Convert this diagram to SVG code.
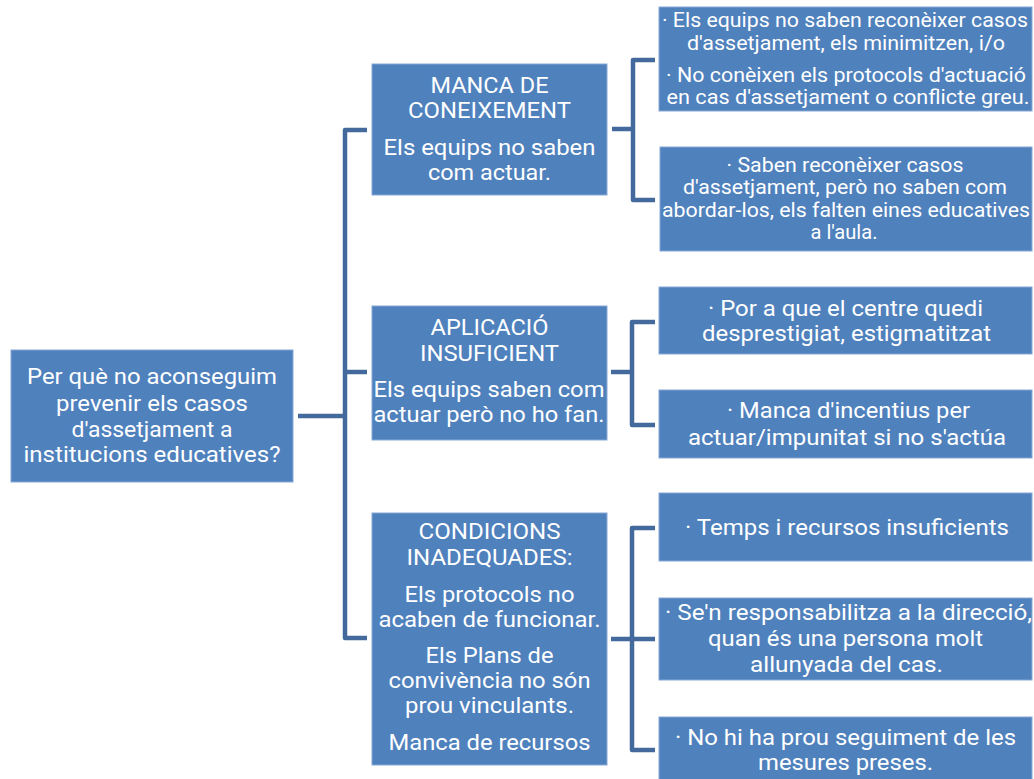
<svg xmlns="http://www.w3.org/2000/svg" width="1034" height="779" viewBox="0 0 1034 779">
<style>
.box{fill:#4F81BD;stroke:#86A8D6;stroke-width:1}
.t{font-family:Roboto,"Liberation Sans",sans-serif;fill:#fff;text-anchor:middle}
.s22{font-size:22px}.s21{font-size:21.5px}.s19{font-size:19.5px}
.c{fill:none;stroke:#44699C;stroke-width:4.5;stroke-linejoin:round}
</style>
<rect width="1034" height="779" fill="#fff"/>
<g id="connectors">
<path class="c" d="M298,416 H345"/>
<path class="c" d="M367,130 H345 V638 H367"/>
<path class="c" d="M345,372 H367"/>
<path class="c" d="M612,129 H633"/>
<path class="c" d="M655,60 H633 V200 H655"/>
<path class="c" d="M611,372 H632"/>
<path class="c" d="M655,322 H632 V425 H655"/>
<path class="c" d="M611,639 H655"/>
<path class="c" d="M655,528 H632 V750 H655"/>
</g>
<g id="root">
<rect class="box" x="11" y="350" width="282" height="132"/>
<text class="t s21" x="152" y="384" textLength="250" lengthAdjust="spacingAndGlyphs">Per què no aconseguim</text>
<text class="t s21" x="152" y="411" textLength="192" lengthAdjust="spacingAndGlyphs">prevenir els casos</text>
<text class="t s21" x="152" y="437" textLength="161" lengthAdjust="spacingAndGlyphs">d'assetjament a</text>
<text class="t s21" x="152" y="462" textLength="257" lengthAdjust="spacingAndGlyphs">institucions educatives?</text>
</g>
<g id="manca">
<rect class="box" x="372" y="64" width="235" height="131"/>
<text class="t s22" x="489.5" y="93" textLength="118" lengthAdjust="spacingAndGlyphs">MANCA DE</text>
<text class="t s22" x="489.5" y="118" textLength="163" lengthAdjust="spacingAndGlyphs">CONEIXEMENT</text>
<text class="t s22" x="489.5" y="155" textLength="212" lengthAdjust="spacingAndGlyphs">Els equips no saben</text>
<text class="t s22" x="489.5" y="180" textLength="123" lengthAdjust="spacingAndGlyphs">com actuar.</text>
</g>
<g id="aplicacio">
<rect class="box" x="372" y="306" width="235" height="134"/>
<text class="t s22" x="489.5" y="335" textLength="118" lengthAdjust="spacingAndGlyphs">APLICACIÓ</text>
<text class="t s22" x="489.5" y="361" textLength="139" lengthAdjust="spacingAndGlyphs">INSUFICIENT</text>
<text class="t s22" x="489" y="397" textLength="231" lengthAdjust="spacingAndGlyphs">Els equips saben com</text>
<text class="t s22" x="489" y="422" textLength="231" lengthAdjust="spacingAndGlyphs">actuar però no ho fan.</text>
</g>
<g id="condicions">
<rect class="box" x="372" y="513" width="235" height="252"/>
<text class="t s22" x="489.5" y="539" textLength="142" lengthAdjust="spacingAndGlyphs">CONDICIONS</text>
<text class="t s22" x="489.5" y="565" textLength="166" lengthAdjust="spacingAndGlyphs">INADEQUADES:</text>
<text class="t s22" x="489.5" y="602" textLength="170" lengthAdjust="spacingAndGlyphs">Els protocols no</text>
<text class="t s22" x="489.5" y="627" textLength="222" lengthAdjust="spacingAndGlyphs">acaben de funcionar.</text>
<text class="t s22" x="489.5" y="663" textLength="128" lengthAdjust="spacingAndGlyphs">Els Plans de</text>
<text class="t s22" x="489.5" y="688" textLength="202" lengthAdjust="spacingAndGlyphs">convivència no són</text>
<text class="t s22" x="489.5" y="713" textLength="169" lengthAdjust="spacingAndGlyphs">prou vinculants.</text>
<text class="t s22" x="489.5" y="750" textLength="202" lengthAdjust="spacingAndGlyphs">Manca de recursos</text>
</g>
<g id="a">
<rect class="box" x="659" y="7" width="373" height="104"/>
<text class="t s19" x="845" y="27" textLength="366" lengthAdjust="spacingAndGlyphs">· Els equips no saben reconèixer casos</text>
<text class="t s19" x="846" y="50" textLength="318" lengthAdjust="spacingAndGlyphs">d'assetjament, els minimitzen, i/o</text>
<text class="t s19" x="846" y="82" textLength="360" lengthAdjust="spacingAndGlyphs">· No conèixen els protocols d'actuació</text>
<text class="t s19" x="848" y="104" textLength="363" lengthAdjust="spacingAndGlyphs">en cas d'assetjament o conflicte greu.</text>
</g>
<g id="b">
<rect class="box" x="660" y="147" width="372" height="104"/>
<text class="t s19" x="845" y="172" textLength="237" lengthAdjust="spacingAndGlyphs">· Saben reconèixer casos</text>
<text class="t s19" x="845" y="194" textLength="324" lengthAdjust="spacingAndGlyphs">d'assetjament, però no saben com</text>
<text class="t s19" x="846" y="217" textLength="368" lengthAdjust="spacingAndGlyphs">abordar-los, els falten eines educatives</text>
<text class="t s19" x="844" y="239" textLength="67" lengthAdjust="spacingAndGlyphs">a l'aula.</text>
</g>
<g id="c">
<rect class="box" x="659" y="287" width="373" height="67"/>
<text class="t s22" x="845.5" y="316" textLength="275" lengthAdjust="spacingAndGlyphs">· Por a que el centre quedi</text>
<text class="t s22" x="846.5" y="341" textLength="289" lengthAdjust="spacingAndGlyphs">desprestigiat, estigmatitzat</text>
</g>
<g id="d">
<rect class="box" x="659" y="390" width="373" height="68"/>
<text class="t s22" x="848.5" y="418" textLength="243" lengthAdjust="spacingAndGlyphs">· Manca d'incentius per</text>
<text class="t s22" x="847" y="445" textLength="318" lengthAdjust="spacingAndGlyphs">actuar/impunitat si no s'actúa</text>
</g>
<g id="e">
<rect class="box" x="659" y="493" width="373" height="68"/>
<text class="t s22" x="847" y="535" textLength="324" lengthAdjust="spacingAndGlyphs">· Temps i recursos insuficients</text>
</g>
<g id="f">
<rect class="box" x="659" y="598" width="373" height="82"/>
<text class="t s22" x="848.5" y="620" textLength="367" lengthAdjust="spacingAndGlyphs">· Se'n responsabilitza a la direcció,</text>
<text class="t s22" x="845.5" y="646" textLength="275" lengthAdjust="spacingAndGlyphs">quan és una persona molt</text>
<text class="t s22" x="846.5" y="672" textLength="193" lengthAdjust="spacingAndGlyphs">allunyada del cas.</text>
</g>
<g id="g">
<rect class="box" x="659" y="717" width="373" height="63"/>
<text class="t s22" x="845.5" y="745" textLength="341" lengthAdjust="spacingAndGlyphs">· No hi ha prou seguiment de les</text>
<text class="t s22" x="845.5" y="770" textLength="175" lengthAdjust="spacingAndGlyphs">mesures preses.</text>
</g>
</svg>
